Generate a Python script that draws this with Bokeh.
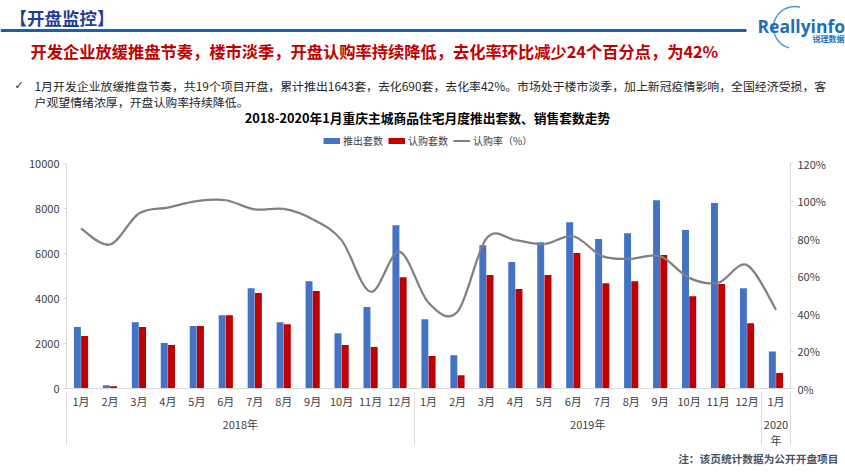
import math
from bokeh.plotting import figure
from bokeh.layouts import column
from bokeh.models import (FactorRange, Range1d, LinearAxis, FixedTicker, NumeralTickFormatter,
                          Legend, LegendItem, ColumnDataSource, Title)
from bokeh.transform import dodge
from bokeh.core.properties import value
from bokeh.embed import file_html
from bokeh.resources import INLINE

# ---------------- data ----------------
years = ["2018年"] * 12 + ["2019年"] * 12 + ["2020\n年"]
months = ["1月", "2月", "3月", "4月", "5月", "6月", "7月", "8月", "9月", "10月", "11月", "12月",
          "1月", "2月", "3月", "4月", "5月", "6月", "7月", "8月", "9月", "10月", "11月", "12月",
          "1月"]
launched = [2730, 150, 2950, 2020, 2780, 3260, 4460, 2950, 4770, 2460, 3620, 7260,
            3080, 1480, 6370, 5620, 6500, 7390, 6640, 6900, 8370, 7040, 8240, 4460,
            1643]
sold = [2330, 105, 2730, 1930, 2780, 3260, 4240, 2860, 4330, 1930, 1840, 4950,
        1440, 590, 5040, 4420, 5040, 6020, 4680, 4770, 5930, 4100, 4640, 2900,
        690]
rate = [85.3, 76.8, 93.3, 96.5, 99.9, 100.4, 95.5, 95.8, 90.3, 79.0, 51.6, 72.9,
        45.7, 40.9, 80.0, 79.1, 77.0, 81.2, 70.6, 69.2, 70.6, 59.0, 56.4, 65.8,
        42.0]
left_ticks = [0, 2000, 4000, 6000, 8000, 10000]
right_ticks = [0, 0.2, 0.4, 0.6, 0.8, 1.0, 1.2]
series_names = ["推出套数", "认购套数", "认购率（%）"]

factors = list(zip(years, months))

BLUE = "#4472C4"
RED = "#C00000"
GREY = "#808080"
AXIS = "#D9D9D9"
CJK = "Noto Sans CJK SC"

W = 845
HEAD_H = 152

# ---------------- header figure ----------------
hf = figure(width=W, height=HEAD_H, x_range=Range1d(0, W), y_range=Range1d(HEAD_H, 0),
            output_backend="svg", toolbar_location=None, x_axis_type=None, y_axis_type=None,
            min_border=0, outline_line_color=None, background_fill_color="white",
            border_fill_color="white", frame_align=False)
hf.xgrid.visible = False
hf.ygrid.visible = False


def txt(x, y, s, size, color, style="normal", align="left", font=CJK):
    hf.text(x=[x], y=[y], text=[s], text_font=value(font), text_font_size=size,
            text_color=color, text_font_style=style, text_align=align, text_baseline="middle")


txt(9, 17, "【开盘监控】", "17.5px", "#1F3F93", "bold")
hf.segment(x0=[0], y0=[30], x1=[746], y1=[30], line_color="#1B5EB5", line_width=3)
hf.arc(x=[794], y=[27], radius=21, start_angle=math.radians(75), end_angle=math.radians(255),
       direction="anticlock", line_color="#4A9BE0", line_width=1.5)
txt(757, 25, "Reallyinfo", "17.5px", "#1E6FB5", "bold", font="Open Sans")
txt(812, 38, "锐理数据", "8px", "#1E6FB5", "bold")
txt(30, 50, "开发企业放缓推盘节奏，楼市淡季，开盘认购率持续降低，去化率环比减少24个百分点，为42%",
    "16.25px", RED, "bold")
txt(14, 85, "✓", "11px", "#262626", font="DejaVu Sans")
txt(34, 85, "1月开发企业放缓推盘节奏，共19个项目开盘，累计推出1643套，去化690套，去化率42%。市场处于楼市淡季，加上新冠疫情影响，全国经济受损，客",
    "11.9px", "#262626")
txt(34, 101, "户观望情绪浓厚，开盘认购率持续降低。", "11.9px", "#262626")
txt(427, 117, "2018-2020年1月重庆主城商品住宅月度推出套数、销售套数走势", "12.75px", "#000000", "bold", "center")

# legend swatches (styled like the series; drawn off-range so only the legend shows them)
lg_b = hf.line(x=[-50, -40], y=[-50, -50], line_color=BLUE, line_width=6)
lg_r = hf.line(x=[-50, -40], y=[-50, -50], line_color=RED, line_width=6)
lg_l = hf.line(x=[-50, -40], y=[-50, -50], line_color=GREY, line_width=2)
legend = Legend(items=[LegendItem(label=series_names[0], renderers=[lg_b]),
                       LegendItem(label=series_names[1], renderers=[lg_r]),
                       LegendItem(label=series_names[2], renderers=[lg_l])],
                location=(323, 4), orientation="horizontal",
                glyph_width=17, glyph_height=13, label_height=13, label_standoff=3, spacing=5,
                padding=0, margin=0, border_line_color=None, background_fill_alpha=0,
                label_text_font=CJK, label_text_font_size="10px", label_text_color="#404040")
hf.add_layout(legend, "center")

# ---------------- main chart ----------------
# empty edge groups trimmed off by a negative padding, so the axis draws its outer separators
edge_pre = [("", "")]
edge_post = [(" ", " ")]
all_factors = edge_pre + factors + edge_post
trim = 0.999
xr = FactorRange(*all_factors, group_padding=0, subgroup_padding=0, factor_padding=0,
                 range_padding=-2 * trim / len(all_factors), range_padding_units="percent")
p = figure(x_range=xr, y_range=Range1d(0, 10000),
           width=W, height=474 - HEAD_H, output_backend="svg", toolbar_location=None,
           min_border_left=66, min_border_right=55, min_border_top=11, min_border_bottom=86,
           outline_line_color=None, background_fill_color="white", border_fill_color="white",
           frame_align=False)
p.extra_y_ranges = {"pct": Range1d(0, 1.2)}
p.xgrid.visible = False
p.ygrid.visible = False

src = ColumnDataSource(dict(x=factors, launched=launched, sold=sold))
p.vbar(x=dodge("x", -0.125, range=p.x_range), top="launched", width=0.24, source=src,
       fill_color=BLUE, line_color=None)
p.vbar(x=dodge("x", 0.125, range=p.x_range), top="sold", width=0.24, source=src,
       fill_color=RED, line_color=None)

# smoothed rate line (Catmull-Rom style bezier through the data points)
n = len(rate)
bx0, by0, bx1, by1, bcx0, bcy0, bcx1, bcy1 = [], [], [], [], [], [], [], []
for i in range(n - 1):
    a = max(i - 1, 0)
    b = min(i + 2, n - 1)
    y_i = rate[i] / 100.0
    y_j = rate[i + 1] / 100.0
    bx0.append(factors[i] + (0.0,))
    by0.append(y_i)
    bx1.append(factors[i + 1] + (0.0,))
    by1.append(y_j)
    bcx0.append(factors[i] + (((i + 1) - a) / 6.0,))
    bcy0.append(y_i + (rate[i + 1] - rate[a]) / 100.0 / 6.0)
    bcx1.append(factors[i + 1] + (-(b - i) / 6.0,))
    bcy1.append(y_j - (rate[b] - rate[i]) / 100.0 / 6.0)
p.bezier(x0=bx0, y0=by0, x1=bx1, y1=by1, cx0=bcx0, cy0=bcy0, cx1=bcx1, cy1=bcy1,
         line_color=GREY, line_width=2.25, y_range_name="pct")

# axes
p.yaxis[0].ticker = FixedTicker(ticks=left_ticks)
right = LinearAxis(y_range_name="pct", ticker=FixedTicker(ticks=right_ticks),
                   formatter=NumeralTickFormatter(format="0%"))
p.add_layout(right, "right")
for ax in [p.yaxis[0], right]:
    ax.axis_line_color = AXIS
    ax.major_tick_line_color = AXIS
    ax.major_tick_in = 0
    ax.major_tick_out = 3
    ax.minor_tick_line_color = None
    ax.major_label_text_font = CJK
    ax.major_label_text_font_size = "11px"
    ax.major_label_text_color = "#404040"
    ax.major_label_standoff = 4

xa = p.xaxis[0]
xa.axis_line_color = AXIS
xa.major_tick_line_color = None
xa.major_tick_in = 0
xa.major_tick_out = 0
xa.minor_tick_line_color = None
xa.major_label_text_font = CJK
xa.major_label_text_font_size = "11px"
xa.major_label_text_color = "#404040"
xa.major_label_standoff = 4
xa.group_text_font = CJK
xa.group_text_font_size = "11px"
xa.group_text_font_style = "normal"
xa.group_text_color = "#404040"
xa.group_text_line_height = 1.0
xa.separator_line_color = AXIS
xa.separator_line_width = 1

p.add_layout(Title(text="注：该页统计数据为公开开盘项目", align="right", offset=-48,
                   text_font=CJK, text_font_size="10.7px", text_font_style="bold",
                   text_color="#44546A", standoff=-4), "below")

layout = column(hf, p, spacing=0)
open("out.html", "w").write(file_html(layout, INLINE))
